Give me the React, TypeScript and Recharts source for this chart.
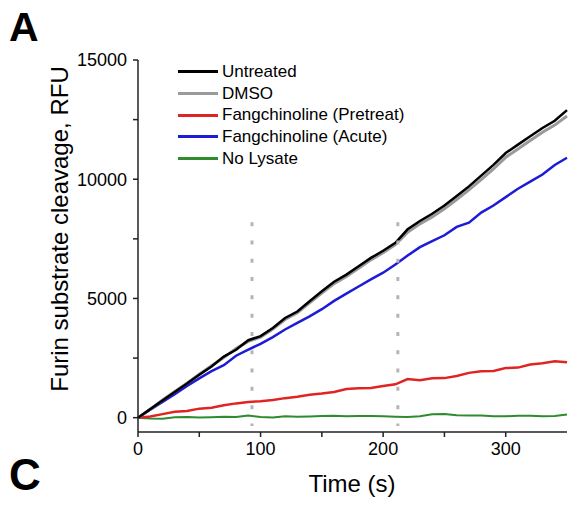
import { LineChart, Line, XAxis, YAxis, ReferenceLine, Legend } from 'recharts';

const time = [0, 10, 20, 30, 40, 50, 60, 70, 80, 90, 100, 110, 120, 130, 140, 150, 160, 170, 180, 190, 200, 210, 220, 230, 240, 250, 260, 270, 280, 290, 300, 310, 320, 330, 340, 350];

const untreated = [0, 360, 720, 1080, 1430, 1800, 2150, 2560, 2850, 3250, 3420, 3760, 4180, 4450, 4880, 5300, 5700, 6000, 6350, 6700, 7000, 7330, 7900, 8250, 8550, 8900, 9300, 9700, 10150, 10600, 11100, 11450, 11800, 12150, 12450, 12900];
const dmso = [0, 350, 740, 1100, 1450, 1820, 2180, 2520, 2900, 3200, 3380, 3720, 4120, 4400, 4820, 5230, 5620, 5920, 6270, 6620, 6920, 7260, 7780, 8130, 8420, 8760, 9150, 9560, 9980, 10430, 10920, 11270, 11620, 11970, 12270, 12650];
const pretreat = [0, 50, 150, 250, 280, 380, 420, 520, 600, 660, 690, 740, 820, 880, 960, 1010, 1080, 1200, 1230, 1250, 1330, 1400, 1620, 1570, 1650, 1660, 1750, 1880, 1950, 1960, 2080, 2100, 2230, 2280, 2370, 2320];
const acute = [0, 330, 660, 990, 1330, 1650, 1950, 2200, 2600, 2850, 3100, 3380, 3700, 3980, 4250, 4550, 4900, 5200, 5500, 5800, 6080, 6420, 6800, 7150, 7400, 7650, 8000, 8180, 8600, 8900, 9250, 9600, 9900, 10200, 10600, 10900];
const noLysate = [0, -30, -40, 20, 30, 10, 20, 40, 30, 90, 30, 10, 60, 40, 50, 70, 80, 60, 70, 70, 60, 40, 30, 60, 140, 150, 100, 90, 90, 60, 60, 80, 80, 60, 70, 130];

const xTicks = [0, 50, 100, 150, 200, 250, 300];
const yTicks = [0, 2500, 5000, 7500, 10000, 12500, 15000];
const markerTimes = [93, 212];

const series = [
  { key: 'noLysate', name: 'No Lysate', color: '#2e8b2e', width: 2 },
  { key: 'pretreat', name: 'Fangchinoline (Pretreat)', color: '#e02424', width: 2.5 },
  { key: 'acute', name: 'Fangchinoline (Acute)', color: '#1c1cd6', width: 2.5 },
  { key: 'dmso', name: 'DMSO', color: '#9a9a9a', width: 3 },
  { key: 'untreated', name: 'Untreated', color: '#000000', width: 2.5 },
];
const legendOrder = ['untreated', 'dmso', 'pretreat', 'acute', 'noLysate'];

const data = time.map((t, i) => ({
  t,
  untreated: untreated[i],
  dmso: dmso[i],
  pretreat: pretreat[i],
  acute: acute[i],
  noLysate: noLysate[i],
}));

const FONT = '"Liberation Sans", Arial, sans-serif';

const LegendBox = () => (
  <div style={{ fontFamily: FONT, fontSize: 17, color: '#000' }}>
    {legendOrder.map((k) => {
      const s = series.find((x) => x.key === k)!;
      return (
        <div key={k} style={{ display: 'flex', alignItems: 'center', height: 21.7, whiteSpace: 'nowrap' }}>
          <span style={{ display: 'inline-block', width: 40, height: 3, background: s.color, marginRight: 4 }} />
          <span>{s.name}</span>
        </div>
      );
    })}
  </div>
);

export default function App() {
  return (
    <div style={{ position: 'absolute', left: 0, top: 0, width: 570, height: 505, background: '#fff', fontFamily: FONT }}>
      <LineChart width={570} height={505} data={data} margin={{ top: 60, right: 3, bottom: 0, left: 0 }}>
        <XAxis
          dataKey="t"
          type="number"
          domain={[0, 350]}
          ticks={xTicks}
          tickFormatter={(v) => (v % 100 === 0 ? String(v) : '')}
          height={73}
          tickSize={5}
          tickMargin={5}
          stroke="#222"
          strokeWidth={1.5}
          tick={{ fill: '#000', fontSize: 18, fontFamily: FONT }}
          label={{
            content: () => (
              <text x={352} y={483} textAnchor="middle" dominantBaseline="central" fontSize={24} fontFamily={FONT} fill="#000">
                Time (s)
              </text>
            ),
          }}
        />
        <YAxis
          type="number"
          domain={[-600, 15000]}
          ticks={yTicks}
          tickFormatter={(v) => (v % 5000 === 0 ? String(v) : '')}
          width={138}
          tickSize={5}
          tickMargin={6}
          stroke="#222"
          strokeWidth={1.5}
          tick={{ fill: '#000', fontSize: 18, fontFamily: FONT }}
          label={{
            content: () => (
              <text x={59} y={229} transform="rotate(-90, 59, 229)" textAnchor="middle" dominantBaseline="central" fontSize={24} fontFamily={FONT} fill="#000">
                Furin substrate cleavage, RFU
              </text>
            ),
          }}
        />
        {series.map((s) => (
          <Line
            key={s.key}
            dataKey={s.key}
            name={s.name}
            stroke={s.color}
            strokeWidth={s.width}
            dot={false}
            type="linear"
            isAnimationActive={false}
          />
        ))}
        {markerTimes.map((m) => (
          <ReferenceLine
            key={m}
            segment={[{ x: m, y: 8200 }, { x: m, y: -350 }]}
            stroke="#b5b5b5"
            strokeWidth={3}
            strokeDasharray="4 14.3"
          />
        ))}
        <Legend
          layout="vertical"
          align="center"
          verticalAlign="middle"
          content={() => <LegendBox />}
          wrapperStyle={{ left: 178, top: 61, width: 260 }}
        />
      </LineChart>
      <div style={{ position: 'absolute', left: 9, top: 4, fontSize: 41, fontWeight: 'bold', fontFamily: FONT }}>A</div>
      <div style={{ position: 'absolute', left: 9, top: 450, fontSize: 44, fontWeight: 'bold', fontFamily: FONT }}>C</div>
    </div>
  );
}
